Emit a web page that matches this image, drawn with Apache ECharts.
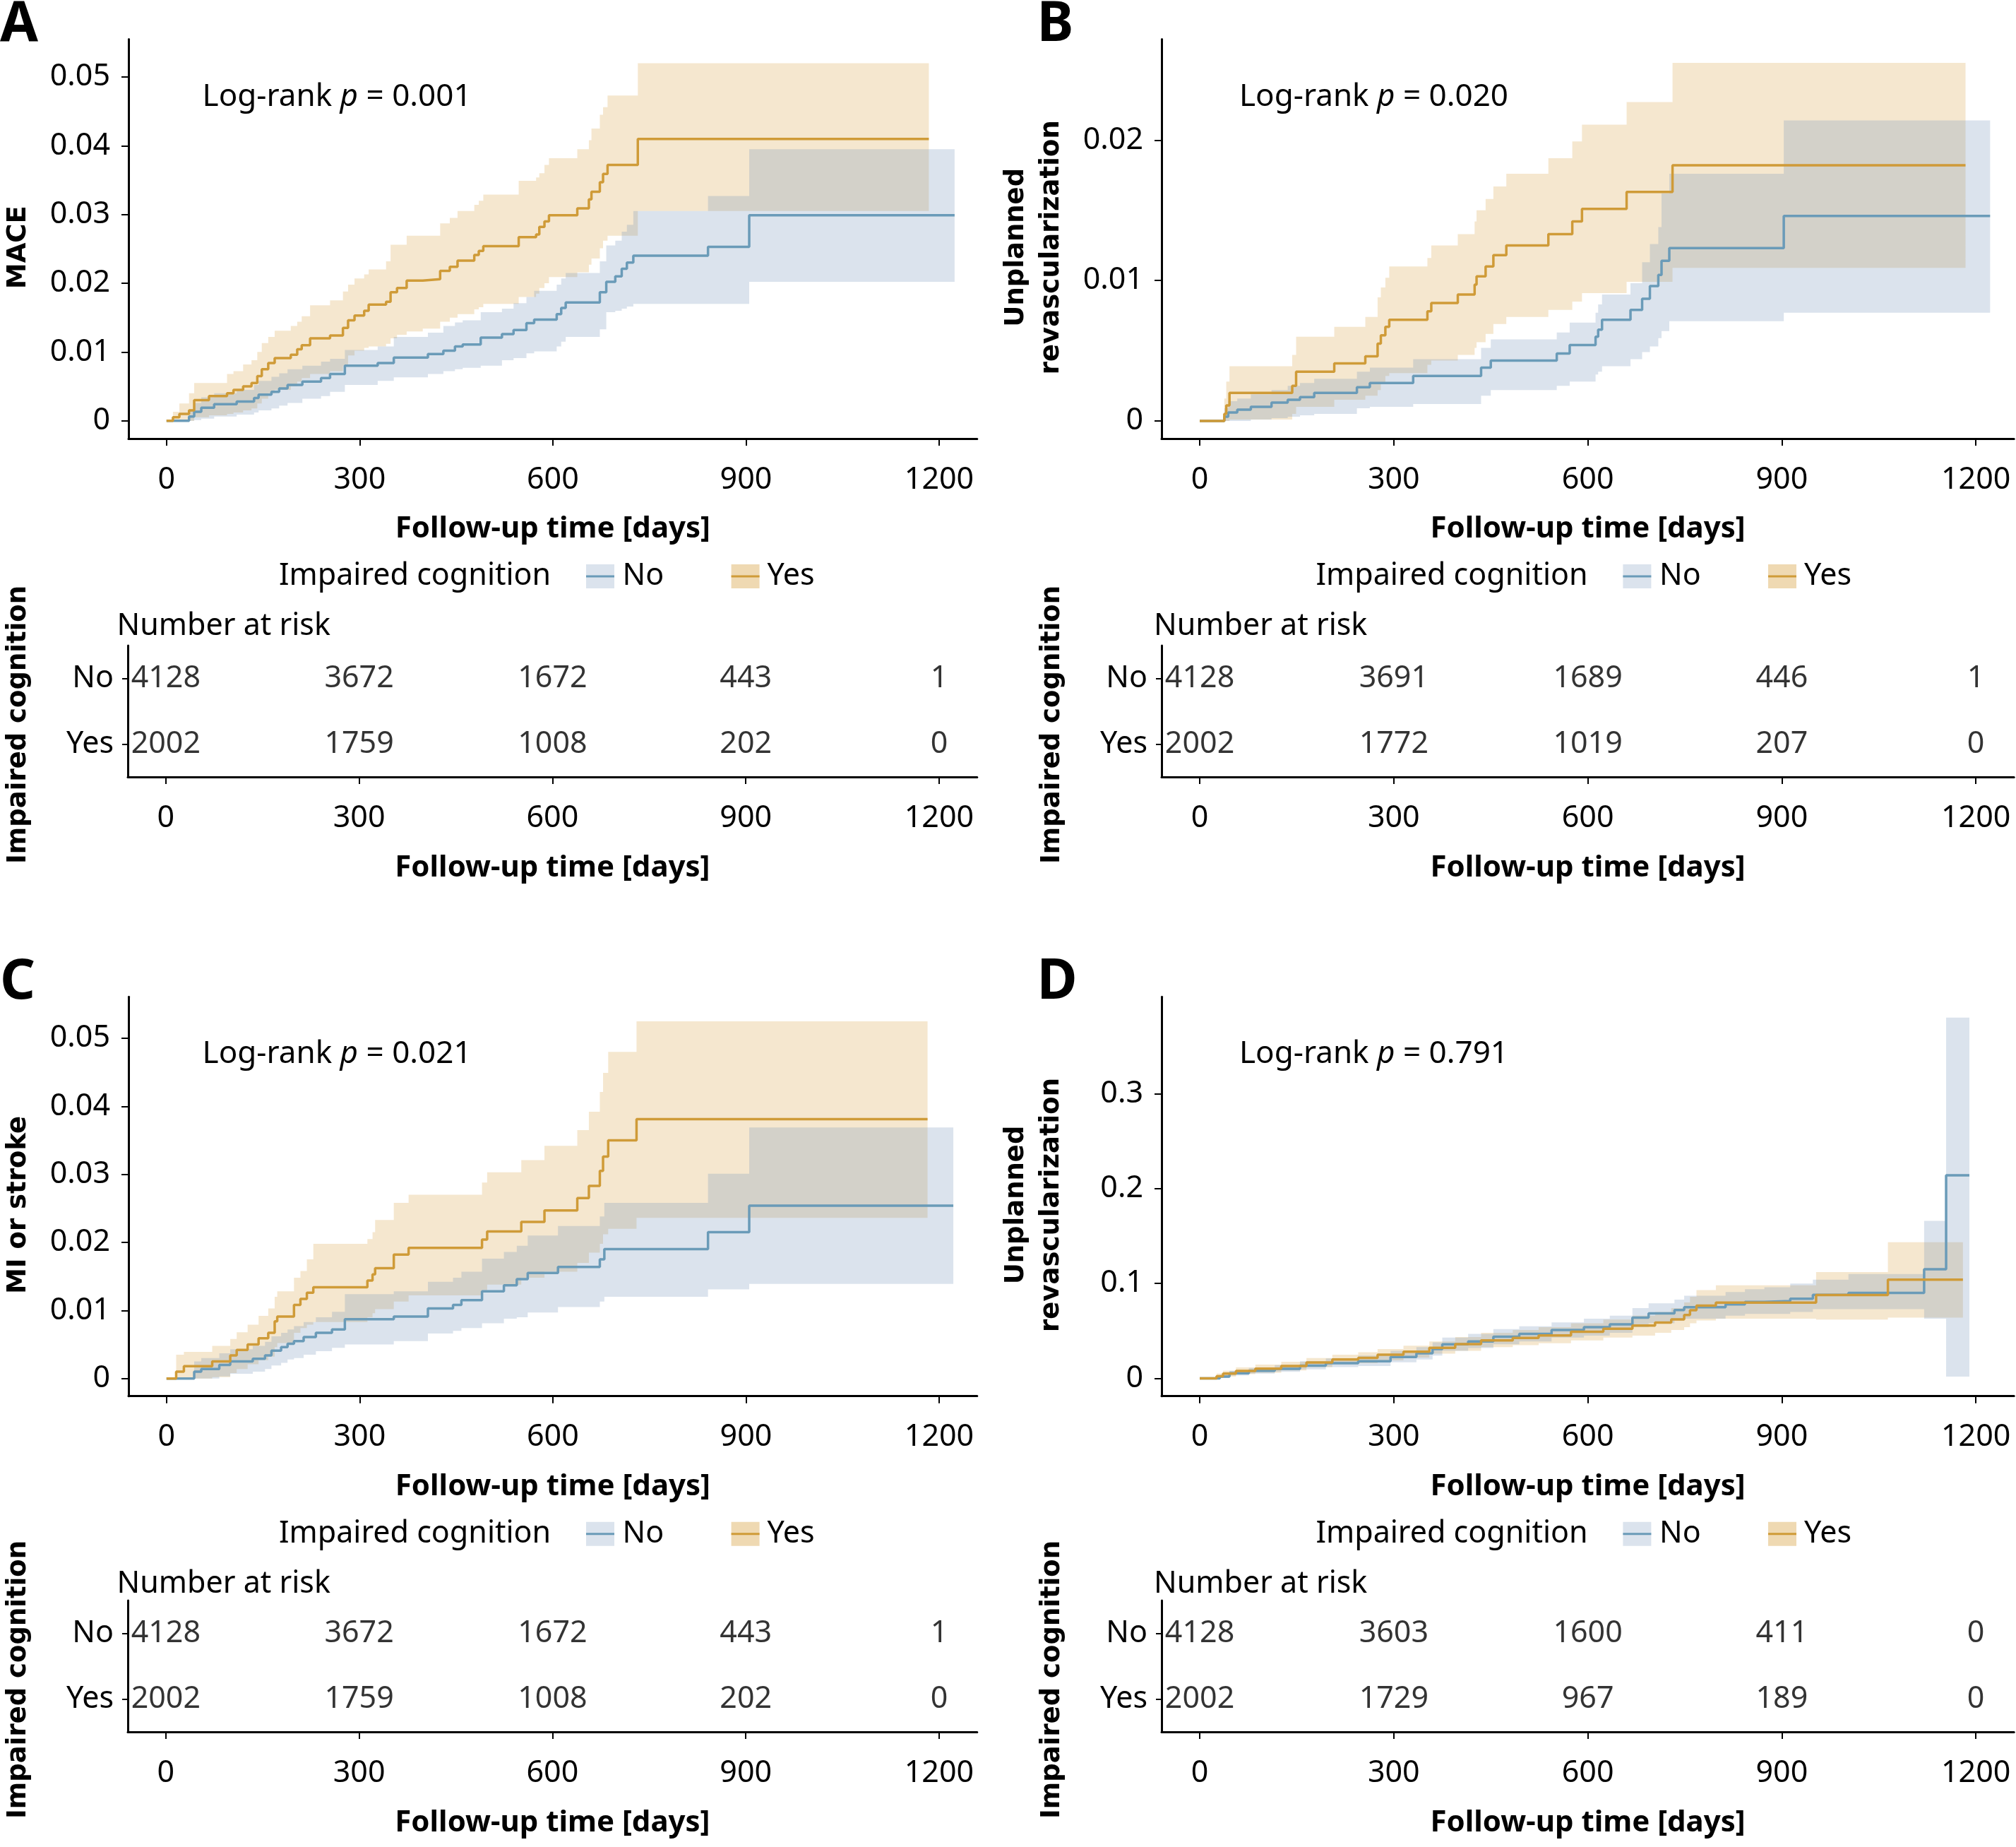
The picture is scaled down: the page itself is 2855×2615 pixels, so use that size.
<!DOCTYPE html>
<html>
<head>
<meta charset="utf-8">
<title>Cumulative incidence by impaired cognition</title>
<script src="https://cdn.jsdelivr.net/npm/echarts@6/dist/echarts.min.js"></script>
<style>
  html, body { margin: 0; padding: 0; background: #fff; }
  #main { width: 2855px; height: 2615px; }
</style>
</head>
<body>
<div id="main"></div>
<script>
// shared ticks / groups
const xTicks = [0, 300, 600, 900, 1200]
const groups = ['No', 'Yes']

// A - MACE
const aYTicks = [0, 0.01, 0.02, 0.03, 0.04, 0.05]
const aYesT = [0, 10, 20, 35, 43, 66, 94, 104, 119, 132, 141, 148, 158, 168, 193, 203, 210, 223, 254, 274, 282, 292, 307, 314, 341, 348, 358, 373, 398, 425, 440, 452, 478, 485, 492, 547, 574, 579, 587, 594, 638, 656, 660, 673, 678, 685, 732, 1184]
const aYesEst = [0, 0.0005, 0.001, 0.0015, 0.003, 0.0036, 0.004, 0.0045, 0.005, 0.0055, 0.0065, 0.0075, 0.0084, 0.0091, 0.0096, 0.0104, 0.011, 0.012, 0.0124, 0.0135, 0.0146, 0.0153, 0.016, 0.0169, 0.0173, 0.0187, 0.0193, 0.0204, 0.0206, 0.0218, 0.0224, 0.0233, 0.0241, 0.0247, 0.0254, 0.0267, 0.0271, 0.0282, 0.029, 0.0299, 0.0309, 0.0322, 0.0333, 0.0347, 0.0359, 0.0372, 0.041, 0.041]
const aYesHi = [0, 0.0013, 0.0025, 0.004, 0.0055, 0.0055, 0.0068, 0.0072, 0.0082, 0.0088, 0.01, 0.0113, 0.0122, 0.0131, 0.0138, 0.0144, 0.0152, 0.0168, 0.0175, 0.0188, 0.0198, 0.0207, 0.0213, 0.022, 0.0232, 0.0256, 0.0256, 0.0269, 0.0269, 0.0287, 0.0295, 0.0305, 0.0314, 0.032, 0.0329, 0.0349, 0.0354, 0.036, 0.0372, 0.0382, 0.0395, 0.0408, 0.0425, 0.0445, 0.0456, 0.0473, 0.052, 0.052]
const aYesLo = [0, 0, 0, 0, 0.0005, 0.0008, 0.001, 0.0012, 0.0015, 0.0018, 0.0025, 0.0032, 0.004, 0.0045, 0.005, 0.0057, 0.0062, 0.0068, 0.0072, 0.008, 0.0095, 0.0102, 0.0106, 0.0108, 0.0112, 0.012, 0.0125, 0.013, 0.0134, 0.0144, 0.015, 0.0155, 0.0162, 0.0165, 0.017, 0.018, 0.0185, 0.0193, 0.02, 0.0209, 0.0216, 0.0227, 0.0236, 0.0251, 0.0262, 0.0269, 0.0305, 0.0305]
const aNoT = [0, 35, 43, 54, 74, 109, 136, 143, 163, 175, 188, 211, 240, 254, 277, 328, 353, 406, 430, 448, 460, 488, 521, 539, 559, 571, 606, 613, 620, 673, 683, 697, 707, 715, 725, 841, 905, 1224]
const aNoEst = [0, 0.0006, 0.0013, 0.0019, 0.0024, 0.0028, 0.0033, 0.0038, 0.0042, 0.0047, 0.0052, 0.0057, 0.0062, 0.0068, 0.008, 0.0084, 0.0092, 0.0097, 0.0102, 0.0108, 0.0111, 0.0121, 0.0126, 0.0132, 0.0142, 0.0147, 0.0155, 0.0164, 0.0172, 0.0187, 0.0202, 0.021, 0.0221, 0.023, 0.024, 0.0253, 0.0299, 0.0299]
const aNoHi = [0, 0.0015, 0.0026, 0.0034, 0.004, 0.0045, 0.0052, 0.0058, 0.0064, 0.0069, 0.0075, 0.008, 0.0086, 0.009, 0.0103, 0.0108, 0.0122, 0.0128, 0.0138, 0.0143, 0.0146, 0.0158, 0.0163, 0.0171, 0.018, 0.0189, 0.0198, 0.0207, 0.0215, 0.0232, 0.0255, 0.0262, 0.0275, 0.0285, 0.0305, 0.0327, 0.0395, 0.0395]
const aNoLo = [0, 0, 0.0001, 0.0003, 0.0006, 0.0009, 0.0012, 0.0015, 0.0018, 0.0022, 0.0026, 0.0032, 0.0036, 0.0042, 0.0052, 0.0058, 0.0063, 0.0068, 0.0072, 0.0075, 0.0077, 0.008, 0.0088, 0.0091, 0.0098, 0.0101, 0.0108, 0.0115, 0.0122, 0.0133, 0.0158, 0.016, 0.0163, 0.0166, 0.017, 0.017, 0.0202, 0.0202]
const aRiskNo = [4128, 3672, 1672, 443, 1]
const aRiskYes = [2002, 1759, 1008, 202, 0]

// B - unplanned revascularization
const bYTicks = [0, 0.01, 0.02]
const bYesT = [0, 38, 41, 46, 143, 149, 208, 256, 275, 280, 287, 293, 352, 358, 399, 425, 428, 442, 454, 474, 539, 576, 591, 660, 731, 1184]
const bYesEst = [0, 0.0005, 0.0011, 0.002, 0.0025, 0.0035, 0.0041, 0.0046, 0.0055, 0.0061, 0.0067, 0.0072, 0.0078, 0.0084, 0.009, 0.0097, 0.0103, 0.011, 0.0118, 0.0125, 0.0133, 0.0142, 0.0151, 0.0163, 0.0182, 0.0182]
const bYesHi = [0, 0.0016, 0.0028, 0.0039, 0.0047, 0.006, 0.0067, 0.0074, 0.0088, 0.0095, 0.0102, 0.011, 0.0116, 0.0125, 0.0133, 0.0142, 0.015, 0.0158, 0.0167, 0.0176, 0.0187, 0.0199, 0.0211, 0.0227, 0.0255, 0.0255]
const bYesLo = [0, 0, 0, 0.0001, 0.0005, 0.001, 0.0015, 0.0018, 0.0022, 0.0027, 0.0032, 0.0034, 0.004, 0.0043, 0.0047, 0.0052, 0.0056, 0.0062, 0.0069, 0.0074, 0.0079, 0.0085, 0.0091, 0.0099, 0.0109, 0.0109]
const bNoT = [0, 38, 44, 58, 79, 111, 136, 155, 177, 243, 263, 330, 435, 450, 552, 572, 612, 616, 622, 666, 684, 696, 709, 714, 726, 903, 1222]
const bNoEst = [0, 0.0003, 0.0006, 0.0008, 0.001, 0.0013, 0.0015, 0.0017, 0.002, 0.0024, 0.0027, 0.0032, 0.0038, 0.0043, 0.0048, 0.0054, 0.006, 0.0065, 0.0072, 0.0079, 0.0087, 0.0096, 0.0104, 0.0114, 0.0123, 0.0146, 0.0146]
const bNoHi = [0, 0.0009, 0.0014, 0.0016, 0.0019, 0.0022, 0.0025, 0.0027, 0.003, 0.0035, 0.0038, 0.0044, 0.0052, 0.0058, 0.0063, 0.007, 0.0077, 0.0083, 0.009, 0.0098, 0.0113, 0.0126, 0.0138, 0.0162, 0.0176, 0.0214, 0.0214]
const bNoLo = [0, 0, 0, 0, 0.0001, 0.0002, 0.0003, 0.0004, 0.0005, 0.0009, 0.001, 0.0012, 0.0018, 0.0022, 0.0025, 0.0028, 0.0033, 0.0035, 0.0039, 0.0044, 0.0049, 0.0053, 0.0059, 0.0064, 0.0071, 0.0077, 0.0077]
const bRiskNo = [4128, 3691, 1689, 446, 1]
const bRiskYes = [2002, 1772, 1019, 207, 0]

// C - MI or stroke
const cYTicks = [0, 0.01, 0.02, 0.03, 0.04, 0.05]
const cYesT = [0, 15, 27, 71, 99, 109, 126, 143, 158, 168, 172, 198, 208, 218, 228, 312, 320, 324, 353, 376, 490, 498, 551, 587, 638, 656, 673, 678, 686, 730, 1182]
const cYesEst = [0, 0.001, 0.0018, 0.0025, 0.0034, 0.0042, 0.005, 0.0059, 0.0067, 0.0084, 0.0091, 0.0108, 0.0117, 0.0126, 0.0134, 0.0144, 0.0153, 0.0162, 0.0182, 0.0192, 0.0204, 0.0216, 0.023, 0.0247, 0.0265, 0.0283, 0.0305, 0.0326, 0.035, 0.0381, 0.0381]
const cYesHi = [0, 0.0035, 0.0039, 0.0048, 0.0058, 0.0068, 0.0079, 0.0092, 0.0103, 0.012, 0.0128, 0.0148, 0.0158, 0.0175, 0.0198, 0.0205, 0.0215, 0.0233, 0.0258, 0.027, 0.0288, 0.0303, 0.0321, 0.0342, 0.0365, 0.0392, 0.0421, 0.0449, 0.048, 0.0525, 0.0525]
const cYesLo = [0, 0, 0, 0.0002, 0.0008, 0.0014, 0.0021, 0.0027, 0.0032, 0.0046, 0.0052, 0.0067, 0.0074, 0.0079, 0.0083, 0.009, 0.0096, 0.0102, 0.0113, 0.0122, 0.013, 0.0138, 0.0148, 0.0157, 0.017, 0.0185, 0.0198, 0.0212, 0.022, 0.0236, 0.0236]
const cNoT = [0, 43, 54, 82, 99, 134, 153, 163, 178, 188, 198, 213, 232, 257, 277, 353, 406, 445, 458, 490, 524, 544, 561, 608, 673, 680, 841, 905, 1222]
const cNoEst = [0, 0.001, 0.0014, 0.002, 0.0025, 0.0029, 0.0034, 0.0041, 0.0046, 0.0051, 0.0055, 0.0061, 0.0067, 0.0072, 0.0087, 0.0091, 0.0103, 0.0108, 0.0115, 0.0128, 0.0137, 0.0146, 0.0155, 0.0164, 0.0175, 0.019, 0.0215, 0.0254, 0.0254]
const cNoHi = [0, 0.0025, 0.003, 0.0037, 0.0043, 0.0048, 0.0054, 0.0062, 0.0067, 0.0072, 0.0077, 0.0083, 0.009, 0.0098, 0.0124, 0.0128, 0.0142, 0.0148, 0.0157, 0.0176, 0.0186, 0.0195, 0.021, 0.0224, 0.0238, 0.0258, 0.0301, 0.0369, 0.0369]
const cNoLo = [0, 0, 0, 0.0003, 0.0007, 0.001, 0.0014, 0.0019, 0.0023, 0.0028, 0.003, 0.0035, 0.004, 0.0045, 0.005, 0.0055, 0.0066, 0.007, 0.0074, 0.0081, 0.0088, 0.009, 0.0097, 0.0105, 0.0113, 0.012, 0.0131, 0.0139, 0.0139]
const cRiskNo = [4128, 3672, 1672, 443, 1]
const cRiskYes = [2002, 1759, 1008, 202, 0]

// D - unplanned revascularization
const dYTicks = [0, 0.1, 0.2, 0.3]
const dYesT = [0, 26, 36, 56, 86, 126, 165, 205, 245, 275, 315, 355, 395, 435, 484, 524, 574, 624, 669, 704, 729, 749, 758, 768, 798, 953, 1064, 1180]
const dYesEst = [0, 0.0023, 0.005, 0.0078, 0.0103, 0.013, 0.0168, 0.02, 0.0217, 0.025, 0.0281, 0.0323, 0.0362, 0.0401, 0.0427, 0.0453, 0.0491, 0.0524, 0.0556, 0.0588, 0.0621, 0.0669, 0.0718, 0.0766, 0.0799, 0.0879, 0.1041, 0.1041]
const dYesHi = [0, 0.005, 0.008, 0.0115, 0.0145, 0.0175, 0.0215, 0.025, 0.0275, 0.031, 0.0345, 0.039, 0.0435, 0.048, 0.051, 0.054, 0.058, 0.062, 0.066, 0.07, 0.074, 0.08, 0.086, 0.093, 0.098, 0.112, 0.1435, 0.1435]
const dYesLo = [0, 0.0005, 0.002, 0.0045, 0.006, 0.0085, 0.012, 0.015, 0.016, 0.019, 0.022, 0.026, 0.029, 0.033, 0.035, 0.037, 0.04, 0.043, 0.045, 0.048, 0.051, 0.054, 0.058, 0.061, 0.063, 0.062, 0.064, 0.064]
const dNoT = [0, 31, 46, 76, 116, 155, 195, 245, 295, 335, 360, 375, 415, 454, 494, 544, 594, 634, 669, 694, 734, 749, 813, 843, 873, 913, 948, 1003, 1120, 1154, 1190]
const dNoEst = [0, 0.002, 0.0055, 0.008, 0.01, 0.0135, 0.016, 0.018, 0.0225, 0.0265, 0.031, 0.036, 0.039, 0.044, 0.047, 0.051, 0.054, 0.057, 0.064, 0.0685, 0.072, 0.075, 0.078, 0.0805, 0.0815, 0.084, 0.088, 0.09, 0.115, 0.214, 0.214]
const dNoHi = [0, 0.004, 0.008, 0.011, 0.014, 0.018, 0.021, 0.024, 0.029, 0.033, 0.038, 0.043, 0.047, 0.052, 0.055, 0.059, 0.063, 0.066, 0.074, 0.079, 0.083, 0.087, 0.091, 0.094, 0.096, 0.1, 0.104, 0.11, 0.166, 0.38, 0.38]
const dNoLo = [0, 0.0005, 0.003, 0.005, 0.007, 0.0095, 0.012, 0.013, 0.017, 0.02, 0.024, 0.029, 0.032, 0.036, 0.039, 0.043, 0.045, 0.048, 0.054, 0.058, 0.061, 0.063, 0.066, 0.068, 0.068, 0.07, 0.073, 0.073, 0.063, 0.002, 0.002]
const dRiskNo = [4128, 3603, 1600, 411, 0]
const dRiskYes = [2002, 1729, 967, 189, 0]

// colours
const lineNo = '#6a9bb8'
const lineYes = '#cf9b38'
const bandNo = 'rgba(112,142,182,0.25)'
const bandYes = 'rgba(220,170,84,0.28)'

const panels = [
  { letter: 'A', left: 176.6, top: 55.5, tableTop: 914, yMin: -0.0026, yMax: 0.0555, yTicks: aYTicks, yName: 'MACE', p: '0.001',
    no: { t: aNoT, est: aNoEst, lo: aNoLo, hi: aNoHi }, yes: { t: aYesT, est: aYesEst, lo: aYesLo, hi: aYesHi }, riskNo: aRiskNo, riskYes: aRiskYes },
  { letter: 'B', left: 1645, top: 55.5, tableTop: 914, yMin: -0.00126, yMax: 0.02718, yTicks: bYTicks, yName: 'Unplanned\nrevascularization', p: '0.020',
    no: { t: bNoT, est: bNoEst, lo: bNoLo, hi: bNoHi }, yes: { t: bYesT, est: bYesEst, lo: bYesLo, hi: bYesHi }, riskNo: bRiskNo, riskYes: bRiskYes },
  { letter: 'C', left: 176.6, top: 1411.2, tableTop: 2266, yMin: -0.0026, yMax: 0.0561, yTicks: cYTicks, yName: 'MI or stroke', p: '0.021',
    no: { t: cNoT, est: cNoEst, lo: cNoLo, hi: cNoHi }, yes: { t: cYesT, est: cYesEst, lo: cYesLo, hi: cYesHi }, riskNo: cRiskNo, riskYes: cRiskYes },
  { letter: 'D', left: 1645, top: 1411.2, tableTop: 2266, yMin: -0.0187, yMax: 0.402, yTicks: dYTicks, yName: 'Unplanned\nrevascularization', p: '0.791',
    no: { t: dNoT, est: dNoEst, lo: dNoLo, hi: dNoHi }, yes: { t: dYesT, est: dYesEst, lo: dYesLo, hi: dYesHi }, riskNo: dRiskNo, riskYes: dRiskYes }
]

const W = 1207.2
const PLOT_H = 565.5
const TABLE_H = 186

const zip = (t, v) => t.map((x, i) => [x, v[i]])
const fmt = v => String(Math.round(v * 1000) / 1000)

const txt = { fontFamily: 'Noto Sans', fontSize: 43, color: '#000' }
const boldTitle = { fontFamily: 'Noto Sans', fontWeight: 'bold', fontSize: 42, color: '#000' }
const sideTitle = { fontFamily: 'DejaVu Sans', fontWeight: 'bold', fontSize: 37, color: '#000', lineHeight: 50 }
const axLine = { show: true, onZero: false, lineStyle: { color: '#000', width: 3 } }
const tick = len => ({ show: true, length: len, lineStyle: { color: '#000', width: 2 } })

function xAxisFor(gridIndex, nameGap) {
  return {
    type: 'value', gridIndex, min: -59, max: 1259,
    axisLine: axLine,
    axisTick: { ...tick(10), customValues: xTicks },
    axisLabel: { ...txt, margin: 37, customValues: xTicks, formatter: v => String(v) },
    splitLine: { show: false },
    name: 'Follow-up time [days]', nameLocation: 'middle', nameGap,
    nameTextStyle: boldTitle
  }
}

// confidence band: one step-shaped polygon, corners mapped through the axes
function bandSeries(idx, grp, color) {
  return {
    type: 'custom', xAxisIndex: idx, yAxisIndex: idx, silent: true, z: 1,
    data: zip(grp.t, grp.hi),
    renderItem: (params, api) => {
      if (params.dataIndex !== 0) return null
      const n = grp.t.length
      const upper = []
      const lower = []
      for (let k = 0; k < n; k++) {
        const x0 = grp.t[k]
        const x1 = k < n - 1 ? grp.t[k + 1] : grp.t[k]
        upper.push(api.coord([x0, grp.hi[k]]), api.coord([x1, grp.hi[k]]))
        lower.push(api.coord([x0, grp.lo[k]]), api.coord([x1, grp.lo[k]]))
      }
      return { type: 'polygon', shape: { points: upper.concat(lower.reverse()) }, style: { fill: color } }
    }
  }
}

function curveSeries(idx, grp, color) {
  return { type: 'line', xAxisIndex: idx, yAxisIndex: idx, step: 'end', symbol: 'none', silent: true, z: 3,
    data: zip(grp.t, grp.est), lineStyle: { color, width: 3.5 } }
}

const option = { animation: false, textStyle: { fontFamily: 'Noto Sans' }, grid: [], xAxis: [], yAxis: [], series: [], graphic: [] }

panels.forEach((p, i) => {
  const gi = i * 2
  const ti = i * 2 + 1

  option.grid.push({ left: p.left, top: p.top, width: W, height: PLOT_H })
  option.grid.push({ left: p.left, top: p.tableTop, width: W, height: TABLE_H })

  option.xAxis.push(xAxisFor(gi, 107))
  option.xAxis.push(xAxisFor(ti, 108))

  option.yAxis.push({
    type: 'value', gridIndex: gi, min: p.yMin, max: p.yMax,
    axisLine: axLine,
    axisTick: { ...tick(10), customValues: p.yTicks },
    axisLabel: { ...txt, margin: 26, customValues: p.yTicks, formatter: fmt },
    splitLine: { show: false },
    name: p.yName, nameLocation: 'middle', nameGap: 131, nameRotate: 90,
    nameTextStyle: { ...sideTitle, padding: [0, 24, 0, 0] }
  })
  option.yAxis.push({
    type: 'category', gridIndex: ti, data: groups, inverse: true,
    axisLine: axLine,
    axisTick: { ...tick(8), alignWithLabel: true },
    axisLabel: { ...txt, margin: 20 },
    splitLine: { show: false },
    name: 'Impaired cognition', nameLocation: 'middle', nameGap: 130, nameRotate: 90,
    nameTextStyle: { ...sideTitle, padding: [0, 38, 0, 0] }
  })

  option.series.push(bandSeries(gi, p.yes, bandYes))
  option.series.push(bandSeries(gi, p.no, bandNo))
  option.series.push(curveSeries(gi, p.no, lineNo))
  option.series.push(curveSeries(gi, p.yes, lineYes))

  // number at risk table
  option.series.push({
    type: 'scatter', xAxisIndex: ti, yAxisIndex: ti, symbolSize: 1, silent: true,
    itemStyle: { color: 'rgba(0,0,0,0)' },
    data: xTicks.map((t, k) => [t, 'No', p.riskNo[k]]).concat(xTicks.map((t, k) => [t, 'Yes', p.riskYes[k]])),
    label: { show: true, position: 'inside', formatter: d => String(d.value[2]), ...txt }
  })

  const dy = p.top - 55.5
  const L = p.left
  option.graphic.push(
    { type: 'text', x: L - 176.6, y: 36 + dy, style: { text: p.letter, fontFamily: 'Noto Sans', fontWeight: 'bold', fontSize: 78, fill: '#000', verticalAlign: 'middle' } },
    { type: 'text', x: L + 110, y: 137 + dy, style: {
      text: 'Log-rank {i|p} = ' + p.p, fontFamily: 'Noto Sans', fontSize: 44, fill: '#000', verticalAlign: 'middle',
      rich: { i: { fontFamily: 'Noto Sans', fontSize: 44, fontStyle: 'italic', fill: '#000' } } } },
    { type: 'text', x: L + 218.4, y: 816 + dy, style: { text: 'Impaired cognition', fontFamily: 'Noto Sans', fontSize: 43, fill: '#000', verticalAlign: 'middle' } },
    { type: 'rect', shape: { x: L + 653.4, y: 799 + dy, width: 40, height: 34 }, style: { fill: bandNo } },
    { type: 'line', shape: { x1: L + 653.4, y1: 816 + dy, x2: L + 693.4, y2: 816 + dy }, style: { stroke: lineNo, lineWidth: 3 } },
    { type: 'text', x: L + 705, y: 816 + dy, style: { text: 'No', fontFamily: 'Noto Sans', fontSize: 43, fill: '#000', verticalAlign: 'middle' } },
    { type: 'rect', shape: { x: L + 859, y: 799 + dy, width: 40, height: 34 }, style: { fill: 'rgba(220,170,84,0.45)' } },
    { type: 'line', shape: { x1: L + 859, y1: 816 + dy, x2: L + 899, y2: 816 + dy }, style: { stroke: lineYes, lineWidth: 3 } },
    { type: 'text', x: L + 910, y: 816 + dy, style: { text: 'Yes', fontFamily: 'Noto Sans', fontSize: 43, fill: '#000', verticalAlign: 'middle' } },
    { type: 'text', x: L - 11, y: 887 + dy, style: { text: 'Number at risk', fontFamily: 'Noto Sans', fontSize: 43, fill: '#000', verticalAlign: 'middle' } }
  )
})

const chart = echarts.init(document.getElementById('main'))
chart.setOption(option)
</script>
</body>
</html>
